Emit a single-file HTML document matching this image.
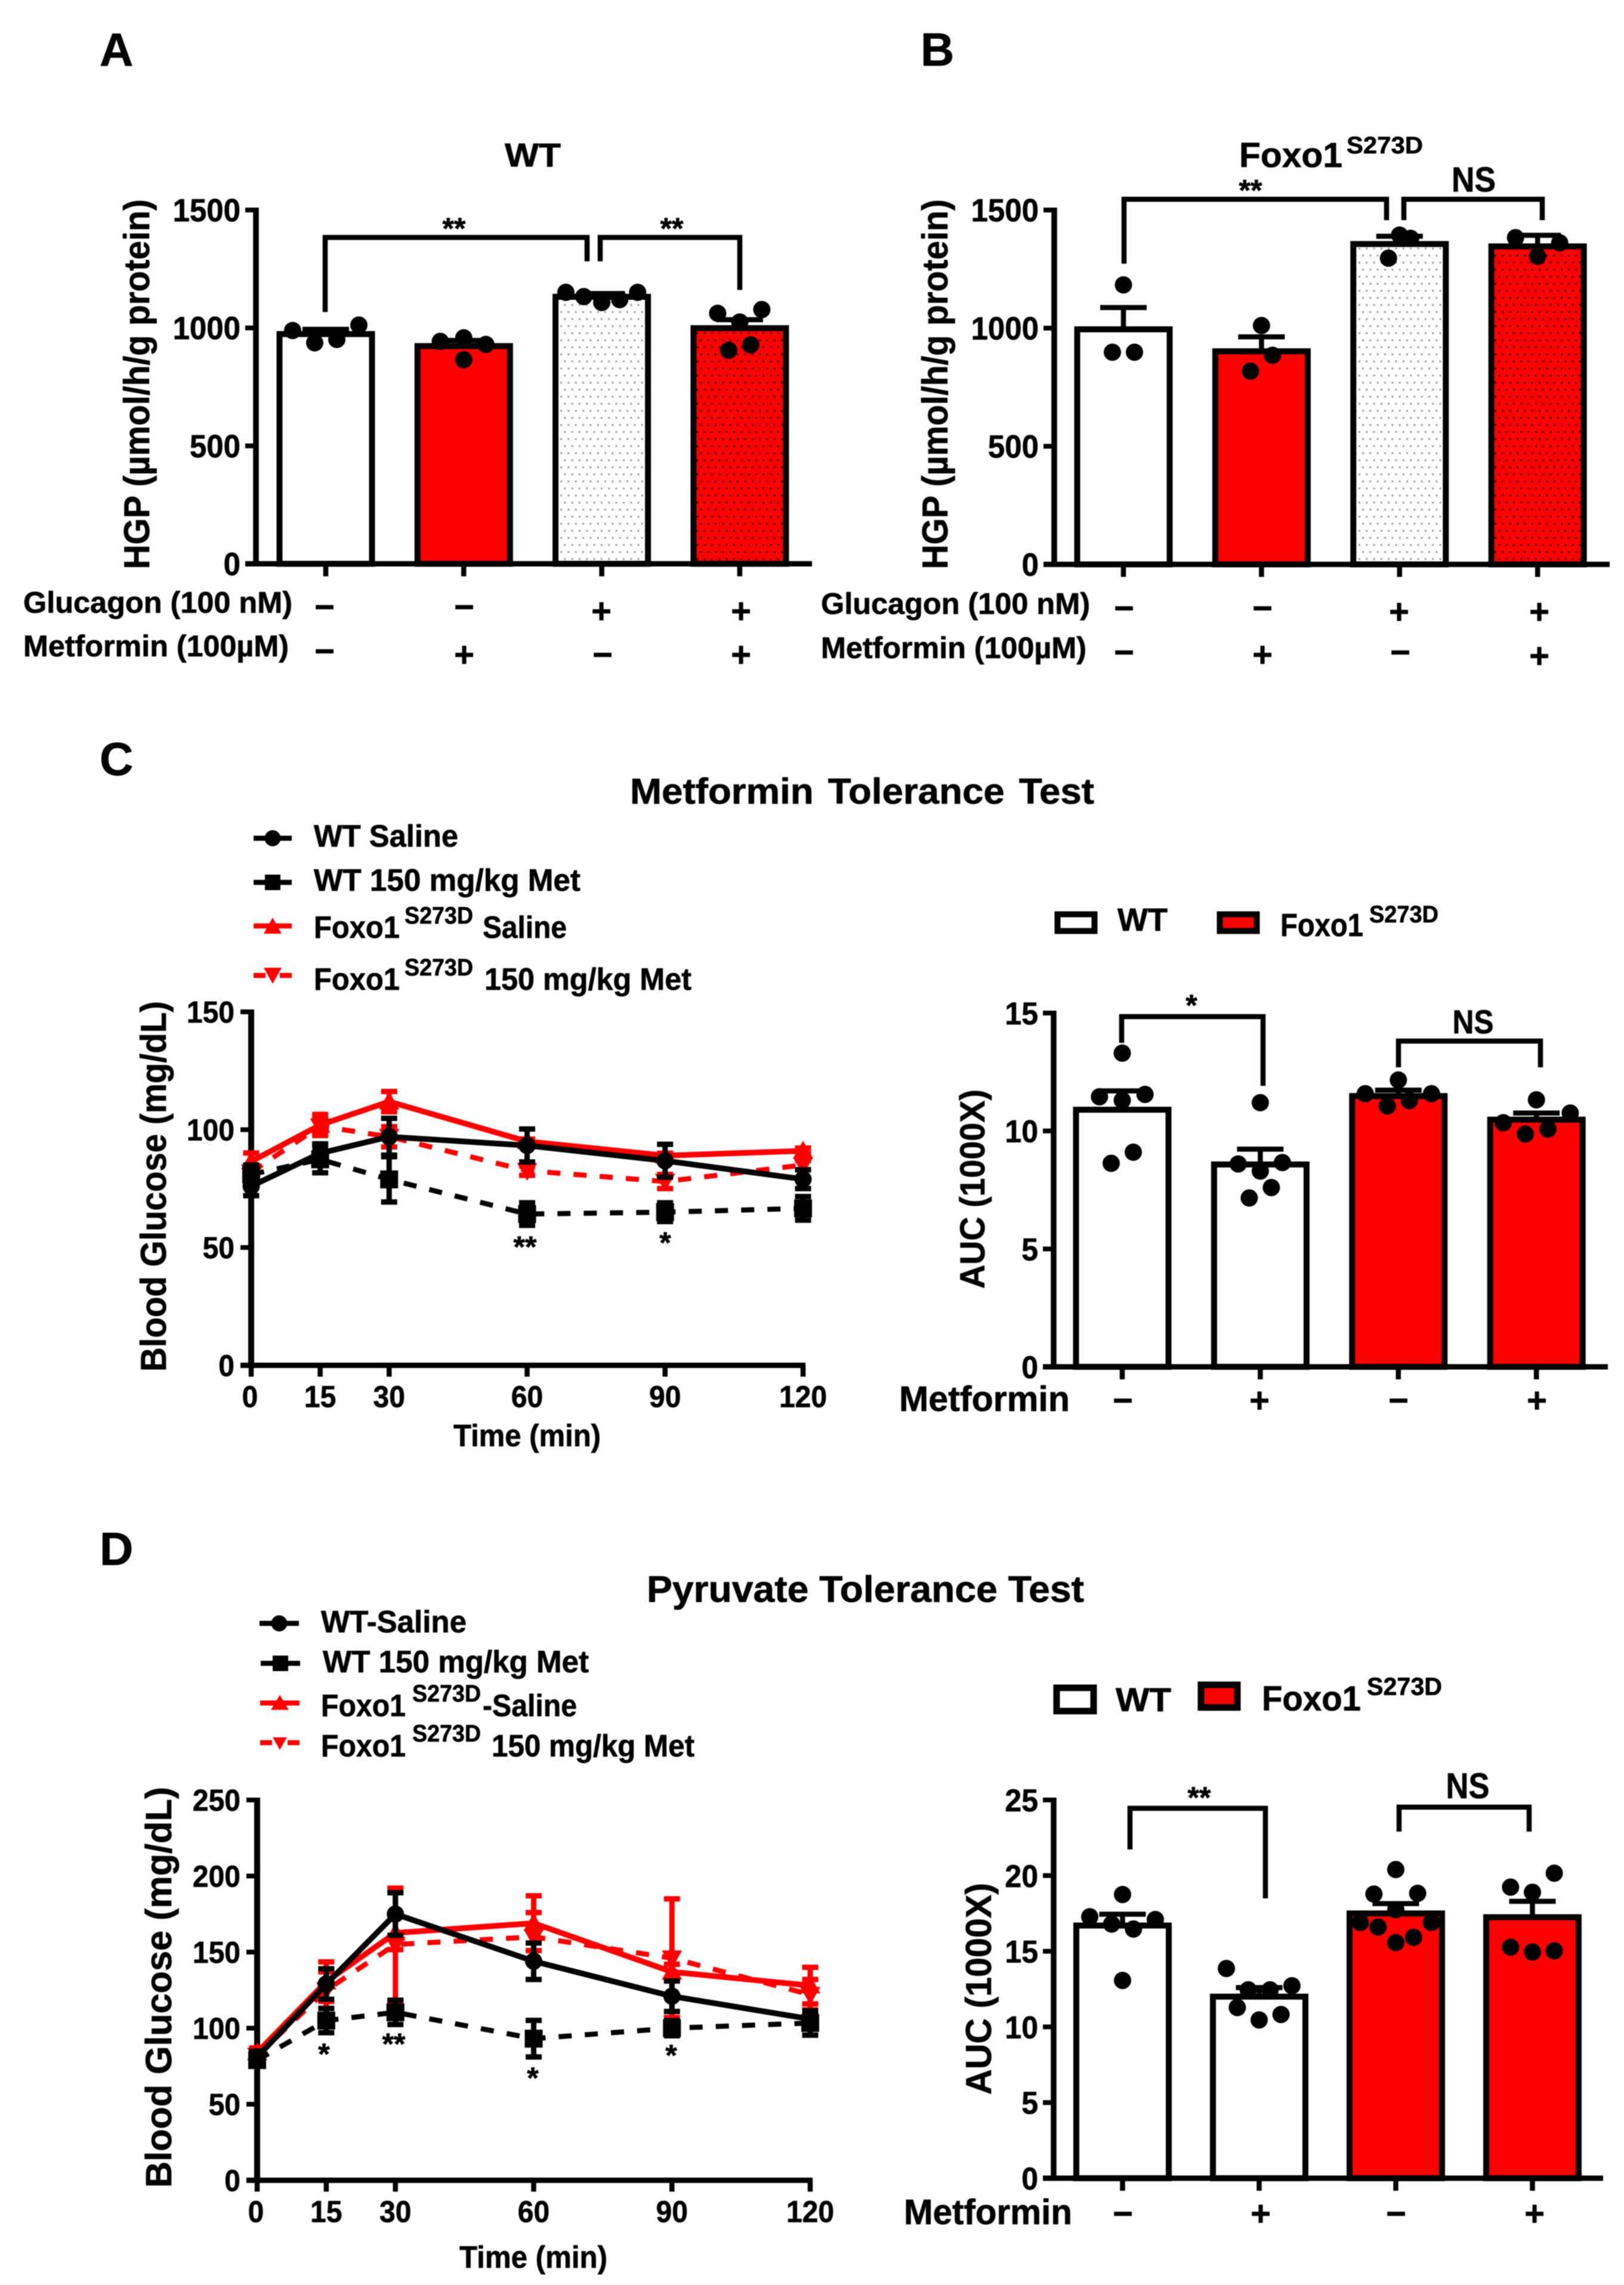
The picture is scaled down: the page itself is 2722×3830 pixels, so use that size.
<!DOCTYPE html>
<html lang="en">
<head>
<meta charset="utf-8">
<title>Foxo1 S273D metformin figure</title>
<style>
html,body{margin:0;padding:0;background:#fff;}
svg{display:block;filter:blur(0.7px);}
text{font-family:"Liberation Sans",Arial,sans-serif;font-weight:bold;fill:#000;stroke:#000;stroke-width:0.7px;}
</style>
</head>
<body>
<svg id="figure" xmlns="http://www.w3.org/2000/svg" width="2722" height="3830" viewBox="0 0 2722 3830">
<defs>
<pattern id="dots-on-white" patternUnits="userSpaceOnUse" width="12.33" height="23.66">
<rect width="12.33" height="23.66" fill="#fff"/>
<rect x="2" y="1" width="3" height="3" fill="#999"/>
<rect x="8.2" y="12.8" width="3" height="3" fill="#999"/>
</pattern>
<pattern id="dots-on-red" patternUnits="userSpaceOnUse" width="12.33" height="23.66">
<rect width="12.33" height="23.66" fill="#f00"/>
<rect x="2" y="1" width="3" height="3" fill="#300"/>
<rect x="8.2" y="12.8" width="3" height="3" fill="#300"/>
</pattern>
</defs>
<rect width="2722" height="3830" fill="#fff"/>

<!-- Panel letters -->
<text x="167" y="110" font-size="78">A</text>
<text x="1543" y="110" font-size="78">B</text>
<text x="167" y="1299" font-size="78">C</text>
<text x="167" y="2623" font-size="78">D</text>

<!-- Panel A annotations -->
<text x="893" y="279" font-size="56" text-anchor="middle" textLength="94" lengthAdjust="spacingAndGlyphs">WT</text>
<text x="250" y="954" font-size="60" transform="rotate(-90 250 954)" textLength="620" lengthAdjust="spacingAndGlyphs">HGP (µmol/h/g protein)</text>
<path d="M545 523V398H984V438M1006 438V398H1240V486" fill="none" stroke="#000" stroke-width="8.5"/>
<text x="761" y="400" font-size="50" text-anchor="middle">**</text>
<text x="1126" y="400" font-size="50" text-anchor="middle">**</text>
<text x="39" y="1027" font-size="50" textLength="451" lengthAdjust="spacingAndGlyphs">Glucagon (100 nM)</text>
<text x="39" y="1100" font-size="50" textLength="445" lengthAdjust="spacingAndGlyphs">Metformin (100µM)</text>
<g font-size="58" text-anchor="middle">
<text x="544" y="1037">−</text><text x="778" y="1037">−</text><text x="1008" y="1044">+</text><text x="1242" y="1044">+</text>
<text x="544" y="1111">−</text><text x="778" y="1117">+</text><text x="1010" y="1117">−</text><text x="1242" y="1117">+</text>
</g>

<!-- Panel B annotations -->
<text x="2077" y="280" font-size="58" textLength="173" lengthAdjust="spacingAndGlyphs">Foxo1</text>
<text x="2257" y="257" font-size="40" textLength="128" lengthAdjust="spacingAndGlyphs">S273D</text>
<text x="1588" y="954" font-size="60" transform="rotate(-90 1588 954)" textLength="620" lengthAdjust="spacingAndGlyphs">HGP (µmol/h/g protein)</text>
<path d="M1884 442V334H2324V369M2353 369V334H2585V369" fill="none" stroke="#000" stroke-width="8.5"/>
<text x="2096" y="336" font-size="50" text-anchor="middle">**</text>
<text x="2470" y="321" font-size="58" text-anchor="middle" textLength="74" lengthAdjust="spacingAndGlyphs">NS</text>
<text x="1376" y="1029" font-size="50" textLength="451" lengthAdjust="spacingAndGlyphs">Glucagon (100 nM)</text>
<text x="1376" y="1103" font-size="50" textLength="445" lengthAdjust="spacingAndGlyphs">Metformin (100µM)</text>
<g font-size="58" text-anchor="middle">
<text x="1884" y="1039">−</text><text x="2116" y="1039">−</text><text x="2345" y="1045">+</text><text x="2580" y="1045">+</text>
<text x="1884" y="1113">−</text><text x="2116" y="1117">+</text><text x="2347" y="1113">−</text><text x="2580" y="1119">+</text>
</g>

<!-- Panel C annotations -->
<text x="1056" y="1347" font-size="60" textLength="778" lengthAdjust="spacingAndGlyphs" word-spacing="6">Metformin  Tolerance Test</text>
<text x="278" y="2299" font-size="60" transform="rotate(-90 278 2299)" textLength="621" lengthAdjust="spacingAndGlyphs">Blood Glucose (mg/dL)</text>
<text x="760" y="2424" font-size="52" textLength="247" lengthAdjust="spacingAndGlyphs">Time (min)</text>
<text x="880" y="2107" font-size="50" text-anchor="middle">**</text>
<text x="1115" y="2100" font-size="50" text-anchor="middle">*</text>

<g>
<line x1="425" x2="489" y1="1405" y2="1405" stroke="#000" stroke-width="8.5"/><circle cx="457" cy="1405" r="13.5" fill="#000"/>
<text x="526" y="1419" font-size="52" textLength="242" lengthAdjust="spacingAndGlyphs">WT Saline</text>
<line x1="425" x2="489" y1="1479" y2="1479" stroke="#000" stroke-width="8.5" stroke-dasharray="20 24 20"/><rect x="444" y="1466" width="26" height="26" fill="#000"/>
<text x="526" y="1493" font-size="52" textLength="447" lengthAdjust="spacingAndGlyphs">WT 150 mg/kg Met</text>
<line x1="425" x2="489" y1="1552" y2="1552" stroke="#f00" stroke-width="8.5"/><path d="M457 1538L472 1565H442Z" fill="#f00"/>
<text x="526" y="1572" font-size="52" textLength="144" lengthAdjust="spacingAndGlyphs">Foxo1</text>
<text x="678" y="1548" font-size="40" textLength="115" lengthAdjust="spacingAndGlyphs">S273D</text>
<text x="809" y="1572" font-size="52" textLength="141" lengthAdjust="spacingAndGlyphs">Saline</text>
<line x1="425" x2="489" y1="1635" y2="1635" stroke="#f00" stroke-width="8.5" stroke-dasharray="20 24 20"/><path d="M457 1649L472 1622H442Z" fill="#f00"/>
<text x="526" y="1659" font-size="52" textLength="144" lengthAdjust="spacingAndGlyphs">Foxo1</text>
<text x="678" y="1635" font-size="40" textLength="115" lengthAdjust="spacingAndGlyphs">S273D</text>
<text x="812" y="1659" font-size="52" textLength="347" lengthAdjust="spacingAndGlyphs">150 mg/kg Met</text>
</g>

<g>
<rect x="1772.5" y="1532.5" width="62" height="28" fill="#fff" stroke="#000" stroke-width="10"/>
<text x="1873" y="1560" font-size="54" textLength="84" lengthAdjust="spacingAndGlyphs">WT</text>
<rect x="2044.5" y="1532.5" width="62" height="28" fill="#f00" stroke="#000" stroke-width="10"/>
<text x="2146" y="1569" font-size="54" textLength="139" lengthAdjust="spacingAndGlyphs">Foxo1</text>
<text x="2295" y="1546" font-size="40" textLength="116" lengthAdjust="spacingAndGlyphs">S273D</text>
</g>
<text x="1650" y="2160" font-size="58" transform="rotate(-90 1650 2160)" textLength="334" lengthAdjust="spacingAndGlyphs">AUC (1000X)</text>
<path d="M1880 1748V1704H2117V1820M2344 1789V1745H2582V1789" fill="none" stroke="#000" stroke-width="8.5"/>
<text x="1997" y="1702" font-size="50" text-anchor="middle">*</text>
<text x="2469" y="1732" font-size="56" text-anchor="middle" textLength="69" lengthAdjust="spacingAndGlyphs">NS</text>
<text x="1507" y="2365" font-size="59" textLength="286" lengthAdjust="spacingAndGlyphs">Metformin</text>
<g font-size="58" text-anchor="middle">
<text x="1882" y="2367">−</text><text x="2111" y="2367">+</text><text x="2344" y="2367">−</text><text x="2576" y="2367">+</text>
</g>

<!-- Panel D annotations -->
<text x="1084" y="2685" font-size="62" textLength="733" lengthAdjust="spacingAndGlyphs">Pyruvate Tolerance Test</text>
<text x="287" y="3667" font-size="61" transform="rotate(-90 287 3667)" textLength="672" lengthAdjust="spacingAndGlyphs">Blood Glucose (mg/dL)</text>
<text x="770" y="3801" font-size="52" textLength="248" lengthAdjust="spacingAndGlyphs">Time (min)</text>
<text x="543" y="3460" font-size="50" text-anchor="middle">*</text>
<text x="660" y="3443" font-size="50" text-anchor="middle">**</text>
<text x="893" y="3500" font-size="50" text-anchor="middle">*</text>
<text x="1125" y="3462" font-size="50" text-anchor="middle">*</text>

<g>
<line x1="435" x2="501" y1="2721" y2="2721" stroke="#000" stroke-width="8.5"/><circle cx="468" cy="2721" r="13.5" fill="#000"/>
<text x="538" y="2736" font-size="52" textLength="244" lengthAdjust="spacingAndGlyphs">WT-Saline</text>
<line x1="437" x2="503" y1="2788" y2="2788" stroke="#000" stroke-width="8.5" stroke-dasharray="20 26 20"/><rect x="457" y="2775" width="26" height="26" fill="#000"/>
<text x="541" y="2803" font-size="52" textLength="446" lengthAdjust="spacingAndGlyphs">WT 150 mg/kg Met</text>
<line x1="436" x2="502" y1="2854.5" y2="2854.5" stroke="#f00" stroke-width="8.5"/><path d="M469 2841L484 2866H454Z" fill="#f00"/>
<text x="538" y="2876.5" font-size="52" textLength="142" lengthAdjust="spacingAndGlyphs">Foxo1</text>
<text x="691" y="2852" font-size="40" textLength="115" lengthAdjust="spacingAndGlyphs">S273D</text>
<text x="809" y="2876.5" font-size="52" textLength="158" lengthAdjust="spacingAndGlyphs">-Saline</text>
<line x1="436" x2="502" y1="2921" y2="2921" stroke="#f00" stroke-width="8.5" stroke-dasharray="20 26 20"/><path d="M469 2933L481 2912H457Z" fill="#f00"/>
<text x="538" y="2944" font-size="52" textLength="142" lengthAdjust="spacingAndGlyphs">Foxo1</text>
<text x="691" y="2919" font-size="40" textLength="115" lengthAdjust="spacingAndGlyphs">S273D</text>
<text x="824" y="2944" font-size="52" textLength="340" lengthAdjust="spacingAndGlyphs">150 mg/kg Met</text>
</g>

<g>
<rect x="1771" y="2829" width="62" height="39" fill="#fff" stroke="#000" stroke-width="11"/>
<text x="1870" y="2868" font-size="56" textLength="93" lengthAdjust="spacingAndGlyphs">WT</text>
<rect x="2013" y="2824" width="61" height="38" fill="#f00" stroke="#000" stroke-width="11"/>
<text x="2115" y="2867" font-size="58" textLength="166" lengthAdjust="spacingAndGlyphs">Foxo1</text>
<text x="2291" y="2841" font-size="42" textLength="126" lengthAdjust="spacingAndGlyphs">S273D</text>
</g>
<text x="1661" y="3511" font-size="60" transform="rotate(-90 1661 3511)" textLength="355" lengthAdjust="spacingAndGlyphs">AUC (1000X)</text>
<path d="M1894 3100V3031H2121V3182M2345 3070V3029H2563V3070" fill="none" stroke="#000" stroke-width="8.5"/>
<text x="2010" y="3030" font-size="50" text-anchor="middle">**</text>
<text x="2460" y="3014" font-size="60" text-anchor="middle" textLength="73" lengthAdjust="spacingAndGlyphs">NS</text>
<text x="1515" y="3728" font-size="59" textLength="282" lengthAdjust="spacingAndGlyphs">Metformin</text>
<g font-size="58" text-anchor="middle">
<text x="1882" y="3730">−</text><text x="2113" y="3730">+</text><text x="2340" y="3730">−</text><text x="2572" y="3730">+</text>
</g>

<g id="panel-a-chart"></g>
<g id="panel-b-chart"></g>
<g id="panel-c-line"></g>
<g id="panel-c-auc"></g>
<g id="panel-d-line"></g>
<g id="panel-d-auc"></g>
</svg>

<script>
// ---------- Panel A data (HGP, WT) ----------
const hgpTickValues = [0, 500, 1000, 1500];
const hgpTickLabels = ['0', '500', '1000', '1500'];
const aMeans = [974, 923, 1132, 999];
const aErrors = [20, 24, 14, 36];
const aPoints = [[989, 937, 951, 1012], [943, 958, 930, 865], [1151, 1133, 1108, 1120, 1151], [1062, 1078, 1025, 905, 928]];
const aJitter = [[-0.24, -0.08, 0.08, 0.24], [-0.17, 0, 0.16, 0], [-0.26, -0.13, 0, 0.13, 0.26], [-0.16, 0.16, 0, -0.08, 0.08]];

// ---------- Panel B data (HGP, Foxo1 S273D) ----------
const bMeans = [995, 902, 1356, 1346];
const bErrors = [92, 61, 33, 47];
const bPoints = [[1183, 898, 898], [1011, 885, 818], [1394, 1380, 1296], [1383, 1361, 1304]];
const bJitter = [[0, -0.08, 0.08], [0, 0.08, -0.08], [0, 0.08, -0.08], [-0.16, 0.16, 0]];

// ---------- Panel C data (metformin tolerance) ----------
const timeMinutes = [0, 15, 30, 60, 90, 120];
const cYTickValues = [0, 50, 100, 150];
const cYTickLabels = ['0', '50', '100', '150'];
const cWtSaline = [76, 90, 97, 93.3, 86.8, 79];
const cWtSalineErr = [4, 4, 7.8, 7, 7, 4];
const cWtMet = [81, 87.4, 78.9, 64.2, 65, 66.6];
const cWtMetErr = [4, 5.7, 9.6, 4.8, 4, 5];
const cFoxoSaline = [86.5, 102, 111.9, 95, 89, 91];
const cFoxoSalineErr = [3.6, 4.5, 4.3, 1, 1, 1.2];
const cFoxoMet = [82, 101.5, 97, 82.6, 78, 85];
const cFoxoMetErr = [3, 3, 4.3, 2, 3, 2];

// ---------- Panel C AUC data ----------
const cAucTickValues = [0, 5, 10, 15];
const cAucTickLabels = ['0', '5', '10', '15'];
const cAucMeans = [10.9, 8.58, 11.48, 10.48];
const cAucErrors = [0.8, 0.65, 0.25, 0.28];
const cAucPoints = [[13.3, 11.45, 11.55, 11.3, 9.1, 8.63], [11.2, 8.6, 8.66, 8.3, 7.6, 7.16], [12.16, 11.58, 11.58, 11.06, 11.29], [11.32, 10.76, 10.35, 9.87, 10.08]];
const cAucJitter = [[0, -0.165, 0.165, 0, 0.08, -0.08], [0, -0.16, 0.16, 0, 0.08, -0.08], [0, -0.24, 0.24, -0.08, 0.08], [0, 0.245, -0.24, -0.08, 0.084]];

// ---------- Panel D data (pyruvate tolerance) ----------
const dYTickValues = [0, 50, 100, 150, 200, 250];
const dYTickLabels = ['0', '50', '100', '150', '200', '250'];
const dWtSaline = [81, 129, 175, 144, 121, 106];
const dWtSalineErr = [4, 10, 14, 12, 10, 5];
const dWtMet = [79, 105, 110.4, 93.1, 100, 103.4];
const dWtMetErr = [4, 8, 8, 12, 5, 8];
const dFoxoSaline = [84, 130.6, 162.6, 169, 137, 128];
const dFoxoSalineErr = [3, 13, 11, 18, 5, 12];
const dFoxoMet = [82, 125, 155, 160, 146, 122];
const dFoxoMetErr = [3, 12, 37, 16, 39, 10];

// ---------- Panel D AUC data ----------
const dAucTickValues = [0, 5, 10, 15, 20, 25];
const dAucTickLabels = ['0', '5', '10', '15', '20', '25'];
const dAucMeans = [16.7, 12, 17.5, 17.25];
const dAucErrors = [0.75, 0.6, 0.65, 1.05];
const dAucPoints = [[18.75, 17.28, 17.1, 16.8, 16.47, 13.07], [13.86, 12.72, 12.45, 12.45, 11.28, 10.82, 10.46], [20.4, 18.78, 18.83, 17.75, 16.9, 16.9, 16.6, 15.92, 15.57], [20.16, 19.24, 18.9, 15.27, 15.03, 14.95]];
const dAucJitter = [[0, -0.24, 0.24, -0.08, 0.08, 0], [-0.24, 0.24, -0.08, 0.08, -0.16, 0.16, 0], [0, -0.16, 0.16, 0, -0.26, 0.26, -0.13, 0.13, 0], [0.16, -0.16, 0, -0.16, 0.16, 0]];

const SVG_NS = 'http://www.w3.org/2000/svg';
function add(tag, attrs, parent, content) {
  const node = document.createElementNS(SVG_NS, tag);
  for (const key in attrs) node.setAttribute(key, attrs[key]);
  if (content !== undefined) node.textContent = content;
  parent.appendChild(node);
  return node;
}

function labelWidth(str, widthFont) {
  return str.length * 0.556 * widthFont;
}

function drawBarAxes(g, yScale, xScale, tickValues, tickLabels, cfg, count) {
  const yAxis = add('line', {x1: cfg.axisX, x2: cfg.axisX, y1: yScale(cfg.max) - 4, y2: cfg.yBase + 4, stroke: '#000', 'stroke-width': 9.5}, g);
  
  
  const xAxis = add('line', {x1: cfg.axisX - 18, x2: cfg.right, y1: cfg.yBase, y2: cfg.yBase, stroke: '#000', 'stroke-width': 9}, g);
  
  
  tickValues.forEach(function (value, i) {
    const y = yScale(value);
    const tick = add('line', {x1: cfg.axisX - 18, x2: cfg.axisX, y1: y, y2: y, stroke: '#000', 'stroke-width': 8}, g);
    
    
    const label = add('text', {x: cfg.axisX - 26, y: y + 19, 'text-anchor': 'end', 'font-size': cfg.tickFont + 3, textLength: labelWidth(tickLabels[i], cfg.tickFont), lengthAdjust: 'spacingAndGlyphs'}, g, tickLabels[i]);
    
    
  });
  for (let i = 0; i < count; i++) {
    const tick = add('line', {x1: xScale(i), x2: xScale(i), y1: cfg.yBase, y2: cfg.yBase + 21, stroke: '#000', 'stroke-width': 8.5}, g);
    
    
  }
}

function drawBarChart(id, means, errors, points, jitter, tickValues, tickLabels, cfg) {
  const g = document.getElementById(id);
  const xScale = function (pos) { return cfg.x0 + pos * cfg.step; };
  const yScale = function (value) { return cfg.yBase - (value / cfg.max) * (cfg.yBase - cfg.yTop); };
  means.forEach(function (mean, i) {
    const bar = add('rect', {x: xScale(i) - 77.5, y: yScale(mean), width: 155, height: cfg.yBase - yScale(mean), fill: cfg.fills[i], stroke: '#000', 'stroke-width': 10}, g);
    
    
  });
  means.forEach(function (mean, i) {
    const top = yScale(mean + errors[i]);
    const stem = add('line', {x1: xScale(i), x2: xScale(i), y1: yScale(mean), y2: top, stroke: '#000', 'stroke-width': 8.5}, g);
    
    
    const cap = add('line', {x1: xScale(i) - 39, x2: xScale(i) + 39, y1: top, y2: top, stroke: '#000', 'stroke-width': 8.5}, g);
    
    
  });
  points.forEach(function (group, i) {
    group.forEach(function (value, j) {
      const dot = add('circle', {cx: xScale(i + jitter[i][j]), cy: yScale(value), r: 14.5, fill: '#000'}, g);
      
      
    });
  });
  drawBarAxes(g, yScale, xScale, tickValues, tickLabels, cfg, means.length);
}

function marker(g, kind, x, y, color) {
  if (kind === 'circle') return add('circle', {cx: x, cy: y, r: 14.5, fill: color}, g);
  if (kind === 'square') return add('rect', {x: x - 15, y: y - 15, width: 30, height: 30, fill: color}, g);
  if (kind === 'up') return add('path', {d: 'M' + x + ' ' + (y - 17) + 'l17 30h-34z', fill: color}, g);
  return add('path', {d: 'M' + x + ' ' + (y + 17) + 'l17 -30h-34z', fill: color}, g);
}

function drawLineChart(id, times, series, tickValues, tickLabels, cfg) {
  const g = document.getElementById(id);
  const xScale = function (t) { return cfg.x0 + (t / 120) * (cfg.x120 - cfg.x0); };
  const yScale = function (value) { return cfg.yBase - (value / cfg.max) * (cfg.yBase - cfg.yTop); };

  const yAxis = add('line', {x1: cfg.x0, x2: cfg.x0, y1: cfg.yTop - 4, y2: cfg.yBase + 4, stroke: '#000', 'stroke-width': 10}, g);
  
  
  const xAxis = add('line', {x1: cfg.x0 - 18, x2: cfg.x120 + 4, y1: cfg.yBase, y2: cfg.yBase, stroke: '#000', 'stroke-width': 9}, g);
  
  
  tickValues.forEach(function (value, i) {
    const y = yScale(value);
    const tick = add('line', {x1: cfg.x0 - 18, x2: cfg.x0, y1: y, y2: y, stroke: '#000', 'stroke-width': 8}, g);
    
    
    const label = add('text', {x: cfg.x0 - 28, y: y + 18, 'text-anchor': 'end', 'font-size': 51, textLength: labelWidth(tickLabels[i], 48), lengthAdjust: 'spacingAndGlyphs'}, g, tickLabels[i]);
    
    
  });
  times.forEach(function (t) {
    const tick = add('line', {x1: xScale(t), x2: xScale(t), y1: cfg.yBase, y2: cfg.yBase + 19, stroke: '#000', 'stroke-width': 8.5}, g);
    
    
    const label = add('text', {x: xScale(t) - (t === 0 ? 2 : 0), y: cfg.yBase + 70, 'text-anchor': 'middle', 'font-size': 51, textLength: labelWidth(String(t), 48), lengthAdjust: 'spacingAndGlyphs'}, g, String(t));
    
    
  });

  series.forEach(function (s) {
    const path = add('polyline', {points: s.values.map(function (v, i) { return xScale(times[i]) + ',' + yScale(v); }).join(' '), fill: 'none', stroke: s.color, 'stroke-width': s.dashed ? 8.5 : 9.5, 'stroke-dasharray': s.dashed ? '22 22' : 'none'}, g);
    
    
    s.values.forEach(function (v, i) {
      const x = xScale(times[i]);
      const hi = yScale(v + s.errors[i]);
      const lo = yScale(v - s.errors[i]);
      const stem = add('line', {x1: x, x2: x, y1: hi, y2: lo, stroke: s.color, 'stroke-width': 9}, g);
      
      
      const capTop = add('line', {x1: x - 13.5, x2: x + 13.5, y1: hi, y2: hi, stroke: s.color, 'stroke-width': 9}, g);
      
      
      const capBottom = add('line', {x1: x - 13.5, x2: x + 13.5, y1: lo, y2: lo, stroke: s.color, 'stroke-width': 9}, g);
      
      
      const point = marker(g, s.marker, x, yScale(v), s.color);
      
      
    });
  });
}

const plainAndDotted = ['#fff', '#f00', 'url(#dots-on-white)', 'url(#dots-on-red)'];
const wtThenFoxo = ['#fff', '#fff', '#f00', '#f00'];

drawBarChart('panel-a-chart', aMeans, aErrors, aPoints, aJitter, hgpTickValues, hgpTickLabels,
  {x0: 546, step: 231.3, axisX: 429, yBase: 945, yTop: 352, max: 1500, right: 1361, tickFont: 51, fills: plainAndDotted});
drawBarChart('panel-b-chart', bMeans, bErrors, bPoints, bJitter, hgpTickValues, hgpTickLabels,
  {x0: 1883, step: 231.4, axisX: 1767, yBase: 946, yTop: 352, max: 1500, right: 2698, tickFont: 51, fills: plainAndDotted});
drawBarChart('panel-c-auc', cAucMeans, cAucErrors, cAucPoints, cAucJitter, cAucTickValues, cAucTickLabels,
  {x0: 1881, step: 231.4, axisX: 1766, yBase: 2291, yTop: 1698, max: 15, right: 2695, tickFont: 50, fills: wtThenFoxo});
drawBarChart('panel-d-auc', dAucMeans, dAucErrors, dAucPoints, dAucJitter, dAucTickValues, dAucTickLabels,
  {x0: 1881.5, step: 229, axisX: 1766, yBase: 3651, yTop: 3017, max: 25, right: 2687, tickFont: 50, fills: wtThenFoxo});

drawLineChart('panel-c-line', timeMinutes, [
  {values: cFoxoMet, errors: cFoxoMetErr, color: '#f00', dashed: true, marker: 'down'},
  {values: cFoxoSaline, errors: cFoxoSalineErr, color: '#f00', dashed: false, marker: 'up'},
  {values: cWtMet, errors: cWtMetErr, color: '#000', dashed: true, marker: 'square'},
  {values: cWtSaline, errors: cWtSalineErr, color: '#000', dashed: false, marker: 'circle'}
], cYTickValues, cYTickLabels, {x0: 421, x120: 1346, yBase: 2288.5, yTop: 1696, max: 150});

drawLineChart('panel-d-line', timeMinutes, [
  {values: dFoxoMet, errors: dFoxoMetErr, color: '#f00', dashed: true, marker: 'down'},
  {values: dFoxoSaline, errors: dFoxoSalineErr, color: '#f00', dashed: false, marker: 'up'},
  {values: dWtMet, errors: dWtMetErr, color: '#000', dashed: true, marker: 'square'},
  {values: dWtSaline, errors: dWtSalineErr, color: '#000', dashed: false, marker: 'circle'}
], dYTickValues, dYTickLabels, {x0: 431, x120: 1358, yBase: 3654.5, yTop: 3017, max: 250});
</script>
</body>
</html>
